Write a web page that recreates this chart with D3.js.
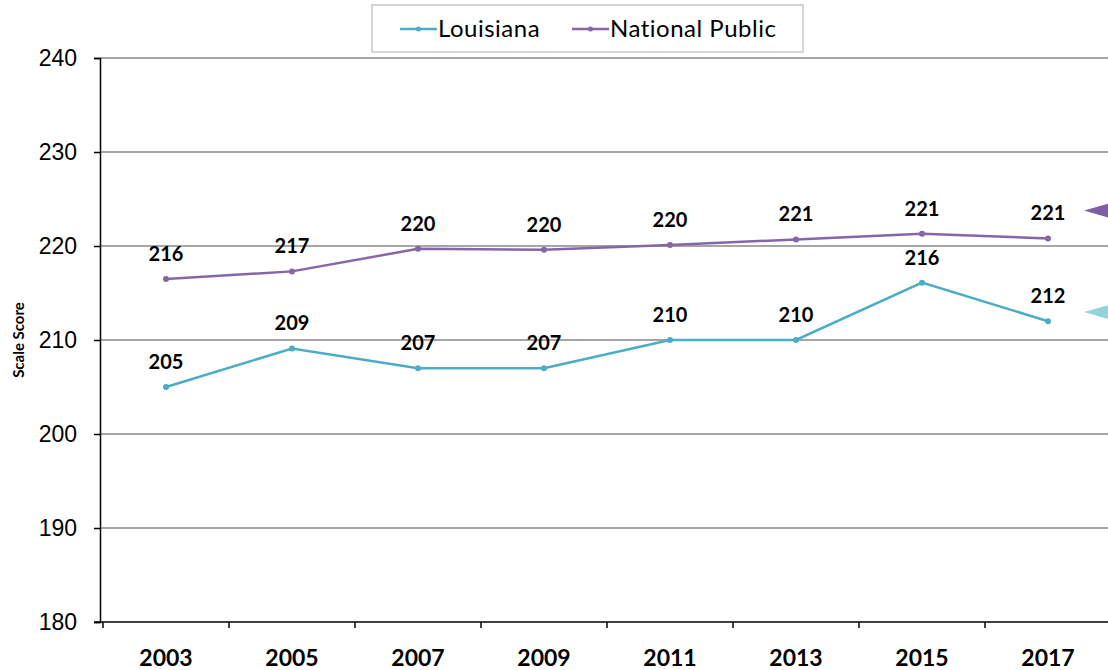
<!DOCTYPE html>
<html>
<head>
<meta charset="utf-8">
<script src="https://cdn.jsdelivr.net/npm/d3@7"></script>
<style>
  body { margin: 0; background: #fff; }
  svg { display: block; font-family: Lato, "Open Sans", sans-serif; }
</style>
</head>
<body>
<div id="vis"></div>
<script>
var years = ["2003", "2005", "2007", "2009", "2011", "2013", "2015", "2017"];
var louisiana = [205, 209.1, 207, 207, 210, 210, 216.1, 212];
var louisianaLabels = ["205", "209", "207", "207", "210", "210", "216", "212"];
var nationalPublic = [216.5, 217.3, 219.7, 219.6, 220.1, 220.7, 221.3, 220.8];
var nationalLabels = ["216", "217", "220", "220", "220", "221", "221", "221"];
var yTicks = [180, 190, 200, 210, 220, 230, 240];

var w = 1108, h = 670;
var margin = {top: 58, left: 100, bottom: 48};
var plotRight = 1116; // plot area runs past the picture's edge

var svg = d3.select("#vis").append("svg")
    .attr("width", w)
    .attr("height", h);

var x = d3.scaleBand().domain(years).range([margin.left + 3, plotRight - 5]);
var y = d3.scaleLinear().domain([180, 240]).range([h - margin.bottom, margin.top]);

// gridlines
svg.append("g")
  .selectAll("line")
  .data(yTicks.slice(1))
  .enter().append("line")
    .attr("x1", margin.left)
    .attr("x2", w)
    .attr("y1", function(d) { return y(d); })
    .attr("y2", function(d) { return y(d); })
    .style("stroke", "#a6a6a6")
    .style("stroke-width", 2);

// y axis
var yAxis = svg.append("g")
    .attr("transform", "translate(" + margin.left + ",0)")
    .call(d3.axisLeft(y).tickValues(yTicks).tickSize(6).tickPadding(17));
yAxis.select(".domain").style("stroke", "#000").style("stroke-width", 1.5);
yAxis.selectAll(".tick line").style("stroke", "#000").style("stroke-width", 1.5);
yAxis.selectAll("text")
    .style("font-size", "23px")
    .style("fill", "#000");

// x axis
var xAxis = svg.append("g")
    .attr("transform", "translate(0," + y(180) + ")");
xAxis.append("line")
    .attr("x1", margin.left - 6)
    .attr("x2", w)
    .style("stroke", "#000")
    .style("stroke-width", 1.5);
xAxis.selectAll(".xtick")
  .data(years)
  .enter().append("line")
    .attr("class", "xtick")
    .attr("x1", function(d) { return x(d); })
    .attr("x2", function(d) { return x(d); })
    .attr("y1", 0)
    .attr("y2", 6)
    .style("stroke", "#000")
    .style("stroke-width", 1.5);
xAxis.selectAll("text")
  .data(years)
  .enter().append("text")
    .attr("x", function(d) { return x(d) + x.bandwidth() / 2; })
    .attr("y", 44)
    .attr("text-anchor", "middle")
    .style("font-size", "23px")
    .style("font-weight", "bold")
    .text(function(d) { return d; });

// y axis title
svg.append("text")
    .attr("transform", "translate(24," + (y(210)) + ") rotate(-90)")
    .attr("text-anchor", "middle")
    .style("font-size", "15px")
    .style("font-weight", "bold")
    .text("Scale Score");

function cx(i) { return x(years[i]) + x.bandwidth() / 2; }

function drawSeries(values, labels, color) {
  var line = d3.line()
      .x(function(d, i) { return cx(i); })
      .y(function(d) { return y(d); });
  svg.append("path")
      .datum(values)
      .attr("d", line)
      .style("fill", "none")
      .style("stroke", color)
      .style("stroke-width", 2.5);
  svg.append("g").selectAll("circle")
      .data(values)
      .enter().append("circle")
      .attr("cx", function(d, i) { return cx(i); })
      .attr("cy", function(d) { return y(d); })
      .attr("r", 3)
      .style("fill", color);
  svg.append("g").selectAll("text")
      .data(values)
      .enter().append("text")
      .attr("x", function(d, i) { return cx(i); })
      .attr("y", function(d) { return y(d) - 18; })
      .attr("text-anchor", "middle")
      .style("font-size", "20px")
      .style("font-weight", "bold")
      .text(function(d, i) { return labels[i]; });
}

drawSeries(nationalPublic, nationalLabels, "#8567a8");
drawSeries(louisiana, louisianaLabels, "#4bacc6");

// right-edge markers
var arrows = [{v: 221, color: "#7d5ea6"}, {v: 210.2, color: "#93d3dc"}];
svg.append("g").selectAll("path")
  .data(arrows)
  .enter().append("path")
    .attr("d", function(d) {
      var yy = y(d.v) - 26;
      return "M1084," + yy + " L1112," + (yy - 8) + " L1112," + (yy + 8) + " Z";
    })
    .style("fill", function(d) { return d.color; });

// legend
var legend = svg.append("g");
legend.append("rect")
    .attr("x", 372).attr("y", 5)
    .attr("width", 431).attr("height", 47)
    .style("fill", "#fff")
    .style("stroke", "#c8c8c8")
    .style("stroke-width", 1.5);
var items = [{name: "Louisiana", color: "#4bacc6", x: 400},
             {name: "National Public", color: "#8567a8", x: 572}];
var li = legend.selectAll(".item")
  .data(items)
  .enter().append("g")
    .attr("class", "item")
    .attr("transform", function(d) { return "translate(" + d.x + ",29)"; });
li.append("line")
    .attr("x1", 0).attr("x2", 37)
    .style("stroke", function(d) { return d.color; })
    .style("stroke-width", 2.5);
li.append("circle")
    .attr("cx", 18.5).attr("r", 2.5)
    .style("fill", function(d) { return d.color; });
li.append("text")
    .attr("x", 38)
    .attr("dy", "0.35em")
    .style("font-size", "24px")
    .style("letter-spacing", "0.5px")
    .text(function(d) { return d.name; });
</script>
</body>
</html>
